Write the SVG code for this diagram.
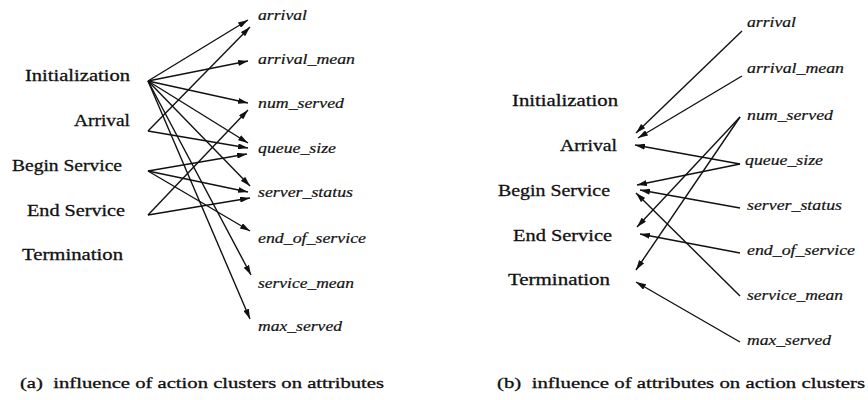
<svg xmlns="http://www.w3.org/2000/svg" width="868" height="400" viewBox="0 0 868 400">
<defs>
<marker id="ah" viewBox="0 0 10 6" refX="10" refY="3" markerWidth="10" markerHeight="6" markerUnits="userSpaceOnUse" orient="auto">
<path d="M0,0 L10,3 L0,6 Z" fill="#111"/>
</marker>
<style>
.lbl{font-family:"Liberation Serif","DejaVu Serif",serif;font-size:17px;fill:#111;stroke:#111;stroke-width:0.3}
.att{font-family:"Liberation Serif","DejaVu Serif",serif;font-size:15px;font-style:italic;fill:#111;stroke:#111;stroke-width:0.2}
.cap{font-family:"Liberation Serif","DejaVu Serif",serif;font-size:15px;fill:#111;stroke:#111;stroke-width:0.3}
.e{stroke:#111;stroke-width:1.4;fill:none;marker-end:url(#ah)}
</style>
</defs>
<rect width="868" height="400" fill="#fff"/>

<!-- Panel (a) -->
<g id="a-initialization"><text class="lbl" x="25" y="81" textLength="105" lengthAdjust="spacingAndGlyphs">Initialization</text></g>
<g id="a-arrival-cluster"><text class="lbl" x="74" y="126" textLength="56" lengthAdjust="spacingAndGlyphs">Arrival</text></g>
<g id="a-begin-service"><text class="lbl" x="12" y="171" textLength="110" lengthAdjust="spacingAndGlyphs">Begin Service</text></g>
<g id="a-end-service"><text class="lbl" x="27" y="216" textLength="98" lengthAdjust="spacingAndGlyphs">End Service</text></g>
<g id="a-termination"><text class="lbl" x="22" y="260" textLength="101" lengthAdjust="spacingAndGlyphs">Termination</text></g>

<g id="a-arrival"><text class="att" x="258" y="20" textLength="49" lengthAdjust="spacingAndGlyphs">arrival</text></g>
<g id="a-arrival_mean"><text class="att" x="258" y="64" textLength="97" lengthAdjust="spacingAndGlyphs">arrival_mean</text></g>
<g id="a-num_served"><text class="att" x="258" y="108" textLength="86" lengthAdjust="spacingAndGlyphs">num_served</text></g>
<g id="a-queue_size"><text class="att" x="258" y="153" textLength="78" lengthAdjust="spacingAndGlyphs">queue_size</text></g>
<g id="a-server_status"><text class="att" x="258" y="197" textLength="95" lengthAdjust="spacingAndGlyphs">server_status</text></g>
<g id="a-end_of_service"><text class="att" x="258" y="243" textLength="108" lengthAdjust="spacingAndGlyphs">end_of_service</text></g>
<g id="a-service_mean"><text class="att" x="258" y="288" textLength="96" lengthAdjust="spacingAndGlyphs">service_mean</text></g>
<g id="a-max_served"><text class="att" x="258" y="331" textLength="84" lengthAdjust="spacingAndGlyphs">max_served</text></g>

<g id="a-connectors">
<line class="e" x1="148" y1="81" x2="248" y2="20"/>
<line class="e" x1="148" y1="81" x2="248" y2="61"/>
<line class="e" x1="148" y1="81" x2="248" y2="103"/>
<line class="e" x1="148" y1="81" x2="248" y2="143"/>
<line class="e" x1="148" y1="81" x2="250" y2="186"/>
<line class="e" x1="148" y1="81" x2="251" y2="275"/>
<line class="e" x1="148" y1="81" x2="250" y2="319"/>
<line class="e" x1="148" y1="131" x2="250" y2="27"/>
<line class="e" x1="148" y1="131" x2="248" y2="148"/>
<line class="e" x1="148" y1="171" x2="247" y2="154"/>
<line class="e" x1="148" y1="171" x2="248" y2="192"/>
<line class="e" x1="148" y1="171" x2="250" y2="231"/>
<line class="e" x1="148" y1="215" x2="248" y2="110"/>
<line class="e" x1="148" y1="215" x2="250" y2="198"/>
</g>

<!-- Panel (b) -->
<g id="b-initialization"><text class="lbl" x="512" y="106" textLength="106" lengthAdjust="spacingAndGlyphs">Initialization</text></g>
<g id="b-arrival-cluster"><text class="lbl" x="560" y="151" textLength="57" lengthAdjust="spacingAndGlyphs">Arrival</text></g>
<g id="b-begin-service"><text class="lbl" x="498" y="196" textLength="112" lengthAdjust="spacingAndGlyphs">Begin Service</text></g>
<g id="b-end-service"><text class="lbl" x="513" y="241" textLength="99" lengthAdjust="spacingAndGlyphs">End Service</text></g>
<g id="b-termination"><text class="lbl" x="508" y="285" textLength="102" lengthAdjust="spacingAndGlyphs">Termination</text></g>

<g id="b-arrival"><text class="att" x="747" y="27" textLength="49" lengthAdjust="spacingAndGlyphs">arrival</text></g>
<g id="b-arrival_mean"><text class="att" x="747" y="73" textLength="97" lengthAdjust="spacingAndGlyphs">arrival_mean</text></g>
<g id="b-num_served"><text class="att" x="747" y="120" textLength="86" lengthAdjust="spacingAndGlyphs">num_served</text></g>
<g id="b-queue_size"><text class="att" x="745" y="165" textLength="78" lengthAdjust="spacingAndGlyphs">queue_size</text></g>
<g id="b-server_status"><text class="att" x="747" y="210" textLength="95" lengthAdjust="spacingAndGlyphs">server_status</text></g>
<g id="b-end_of_service"><text class="att" x="747" y="255" textLength="108" lengthAdjust="spacingAndGlyphs">end_of_service</text></g>
<g id="b-service_mean"><text class="att" x="747" y="300" textLength="96" lengthAdjust="spacingAndGlyphs">service_mean</text></g>
<g id="b-max_served"><text class="att" x="747" y="345" textLength="84" lengthAdjust="spacingAndGlyphs">max_served</text></g>

<g id="b-connectors">
<line class="e" x1="742" y1="31" x2="636" y2="133"/>
<line class="e" x1="742" y1="76" x2="638" y2="138"/>
<line class="e" x1="740" y1="164" x2="635" y2="145"/>
<line class="e" x1="740" y1="164" x2="637" y2="185"/>
<line class="e" x1="740" y1="117" x2="637" y2="227"/>
<line class="e" x1="740" y1="117" x2="636" y2="270"/>
<line class="e" x1="740" y1="208" x2="640" y2="190"/>
<line class="e" x1="740" y1="253" x2="640" y2="234"/>
<line class="e" x1="740" y1="296" x2="636" y2="193"/>
<line class="e" x1="740" y1="342" x2="636" y2="282"/>
</g>

<g id="captions">
<text class="cap" x="20" y="388" xml:space="preserve" textLength="364" lengthAdjust="spacingAndGlyphs">(a)  influence of action clusters on attributes</text>
<text class="cap" x="497" y="388" xml:space="preserve" textLength="368" lengthAdjust="spacingAndGlyphs">(b)  influence of attributes on action clusters</text>
</g>
</svg>
